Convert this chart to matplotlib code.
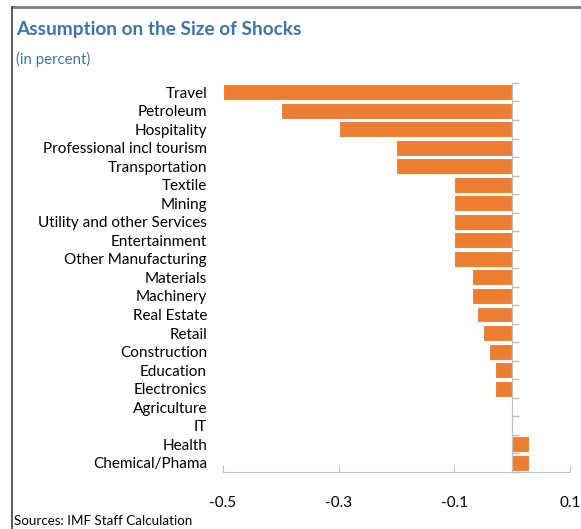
import matplotlib
matplotlib.use('Agg')
import matplotlib.pyplot as plt
from matplotlib.lines import Line2D
import numpy as np

# sectors, top to bottom
sectors = ['Travel', 'Petroleum', 'Hospitality', 'Professional incl tourism',
           'Transportation', 'Textile', 'Mining', 'Utility and other Services',
           'Entertainment', 'Other Manufacturing', 'Materials', 'Machinery',
           'Real Estate', 'Retail', 'Construction', 'Education', 'Electronics',
           'Agriculture', 'IT', 'Health', 'Chemical/Phama']
shocks = [-0.5, -0.4, -0.3, -0.2, -0.2, -0.1, -0.1, -0.1, -0.1, -0.1,
          -0.07, -0.07, -0.06, -0.05, -0.04, -0.03, -0.03, 0.0, 0.0, 0.03, 0.03]
xticks = [-0.5, -0.3, -0.1, 0.1]
xtick_labels = ['-0.5', '-0.3', '-0.1', '0.1']

plt.rcParams['font.family'] = ['Lato', 'DejaVu Sans']

fig = plt.figure(figsize=(5.81, 5.29), dpi=100)
ax = fig.add_axes([0.3838, 0.1078, 0.5972, 0.7354])

pos = np.arange(len(sectors))
ax.barh(pos, shocks, height=0.86, color='#ED7D31', edgecolor='white', linewidth=0.8)

ax.set_xlim(-0.5, 0.1)
ax.set_ylim(len(sectors) - 0.5, -0.5)

# category labels on the left, no ticks there
ax.set_yticks(pos)
ax.set_yticklabels(sectors)
ax.set_yticks(np.arange(len(sectors) + 1) - 0.5, minor=True)
ax.tick_params(axis='y', which='major', left=False, right=False, labelleft=True,
               pad=8, labelsize=11)
ax.tick_params(axis='y', which='minor', left=False, right=True, length=5,
               color='#bfbfbf', width=1)

# right spine acts as the zero line
ax.spines['left'].set_visible(False)
ax.spines['top'].set_visible(False)
ax.spines['right'].set_position(('data', 0))
ax.spines['right'].set_color('#bfbfbf')
ax.spines['bottom'].set_color('#bfbfbf')

ax.set_xticks(xticks)
ax.set_xticklabels(xtick_labels)
ax.tick_params(axis='x', direction='in', length=5, color='#bfbfbf', pad=17,
               labelsize=11)

fig.text(0.028, 0.944, 'Assumption on the Size of Shocks', fontsize=13.7,
         fontweight='bold', color='#3f75a6', va='center')
fig.text(0.028, 0.887, '(in percent)', fontsize=10.8, color='#3f75a6', va='center')
fig.text(0.024, 0.015, 'Sources: IMF Staff Calculation', fontsize=9.6, va='center')

# frame lines on top and left
fig.add_artist(Line2D([0.021, 1.0], [0.987, 0.987], color='#7f7f7f', lw=2,
                      transform=fig.transFigure))
fig.add_artist(Line2D([0.021, 0.021], [0.0, 0.987], color='#404040', lw=1.2,
                      transform=fig.transFigure))

fig.savefig('out.png', dpi=100)
